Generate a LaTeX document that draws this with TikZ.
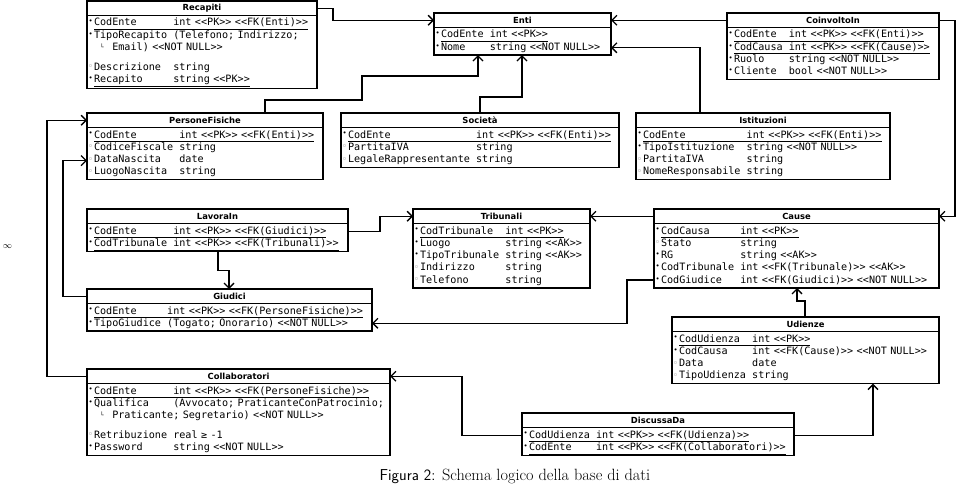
\documentclass[tikz,border=0pt]{standalone}
\usepackage{fontspec}
\setmonofont{DejaVu Sans Mono}
\newfontfamily\testa{DejaVu Sans}
\usepackage{tikz}
\usetikzlibrary{arrows.meta,calc}

\newlength\cw \setlength\cw{6.1pt}
\newlength\bw \setlength\bw{5.5pt}
\newcommand\corpofont{\ttfamily\fontsize{10.13}{12.3}\selectfont\frenchspacing
  \spaceskip=\cw\relax\xspaceskip=\cw\relax
  \lineskiplimit=-5pt\relax\lineskip=0pt\relax}
\newcommand\testafont{\testa\bfseries\fontsize{8.4}{10}\selectfont}
\newcommand\riga{\vrule width 0pt height 9pt depth 3.3pt\relax}
\newcommand\pieno{\riga\makebox[\bw][l]{\raisebox{2.2pt}{\testa\fontsize{7}{7}\selectfont •}}}
\newcommand\vuoto{\riga\makebox[\bw][l]{\raisebox{2.6pt}{\color{black!45}\fontsize{6}{6}\selectfont$\circ$}}}
\newcommand\attr[3]{\mbox{\makebox[#1\cw][l]{#2}#3}}
\newcommand\chiave[3]{\mbox{\underline{\vrule width 0pt depth 2pt\relax\makebox[#1\cw][l]{#2}#3}}}
\newcommand\segue[1]{\riga\hspace*{\bw}\mbox{\makebox[3\cw][l]{\hspace*{\cw}\raisebox{1pt}{\fontsize{6}{6}\selectfont └}}#1}}

\begin{document}
\begin{tikzpicture}[x=1pt, y=-1pt, line width=1.3pt,
    testata/.style={draw, anchor=north west, outer sep=0pt, inner sep=0pt, minimum height=14.5pt,
      font=\testafont},
    corpo/.style={draw, anchor=north west, outer sep=0pt, inner xsep=1.5pt, inner ysep=1.5pt, align=left,
      font=\corpofont},
    freccia/.style={-{Straight Barb[length=5pt,width=10pt]}}]
  \useasboundingbox (0,0) rectangle (959,487);

  % prima riga
  \node[testata, minimum width=230pt] (recapiti) at (87,1) {Recapiti};
  \node[corpo, text width=227pt] (recapiti-c) at (recapiti.south west) {%
    \pieno\chiave{13}{CodEnte}{int <<PK>> <<FK(Enti)>>}\\
    \pieno\attr{13}{TipoRecapito}{(Telefono; Indirizzo;}\\
    \segue{Email) <<NOT NULL>>}\\[7.5pt]
    \vuoto\attr{13}{Descrizione}{string}\\
    \pieno\chiave{13}{Recapito}{string <<PK>>}};

  \node[testata, minimum width=177pt] (enti) at (434,13) {Enti};
  \node[corpo, text width=174pt] (enti-c) at (enti.south west) {%
    \pieno\chiave{8}{CodEnte}{int <<PK>>}\\
    \pieno\attr{8}{Nome}{string <<NOT NULL>>}};

  \node[testata, minimum width=212pt] (coinvolto) at (727,13) {CoinvoltoIn};
  \node[corpo, text width=209pt] (coinvolto-c) at (coinvolto.south west) {%
    \pieno\chiave{9}{CodEnte}{int <<PK>> <<FK(Enti)>>}\\
    \pieno\chiave{9}{CodCausa}{int <<PK>> <<FK(Cause)>>}\\
    \pieno\attr{9}{Ruolo}{string <<NOT NULL>>}\\
    \pieno\attr{9}{Cliente}{bool <<NOT NULL>>}};

  % seconda riga
  \node[testata, minimum width=236pt] (persone) at (87,113) {PersoneFisiche};
  \node[corpo, text width=233pt] (persone-c) at (persone.south west) {%
    \pieno\chiave{14}{CodEnte}{int <<PK>> <<FK(Enti)>>}\\
    \vuoto\attr{14}{CodiceFiscale}{string}\\
    \vuoto\attr{14}{DataNascita}{date}\\
    \vuoto\attr{14}{LuogoNascita}{string}};

  \node[testata, minimum width=278pt] (societa) at (341,113) {Società};
  \node[corpo, text width=275pt] (societa-c) at (societa.south west) {%
    \pieno\chiave{21}{CodEnte}{int <<PK>> <<FK(Enti)>>}\\
    \vuoto\attr{21}{PartitaIVA}{string}\\
    \vuoto\attr{21}{LegaleRappresentante}{string}};

  \node[testata, minimum width=254pt] (istituzioni) at (636,113) {Istituzioni};
  \node[corpo, text width=251pt] (istituzioni-c) at (istituzioni.south west) {%
    \pieno\chiave{17}{CodEnte}{int <<PK>> <<FK(Enti)>>}\\
    \pieno\attr{17}{TipoIstituzione}{string <<NOT NULL>>}\\
    \vuoto\attr{17}{PartitaIVA}{string}\\
    \vuoto\attr{17}{NomeResponsabile}{string}};

  % terza riga
  \node[testata, minimum width=261pt] (lavora) at (87,209) {LavoraIn};
  \node[corpo, text width=258pt] (lavora-c) at (lavora.south west) {%
    \pieno\chiave{13}{CodEnte}{int <<PK>> <<FK(Giudici)>>}\\
    \pieno\chiave{13}{CodTribunale}{int <<PK>> <<FK(Tribunali)>>}};

  \node[testata, minimum width=177pt] (tribunali) at (413,209) {Tribunali};
  \node[corpo, text width=174pt] (tribunali-c) at (tribunali.south west) {%
    \pieno\chiave{14}{CodTribunale}{int <<PK>>}\\
    \pieno\attr{14}{Luogo}{string <<AK>>}\\
    \pieno\attr{14}{TipoTribunale}{string <<AK>>}\\
    \vuoto\attr{14}{Indirizzo}{string}\\
    \vuoto\attr{14}{Telefono}{string}};

  \node[testata, minimum width=285pt] (cause) at (654,209) {Cause};
  \node[corpo, text width=282pt] (cause-c) at (cause.south west) {%
    \pieno\chiave{13}{CodCausa}{int <<PK>>}\\
    \vuoto\attr{13}{Stato}{string}\\
    \pieno\attr{13}{RG}{string <<AK>>}\\
    \pieno\attr{13}{CodTribunale}{int <<FK(Tribunale)>> <<AK>>}\\
    \pieno\attr{13}{CodGiudice}{int <<FK(Giudici)>> <<NOT NULL>>}};

  % quarta riga
  \node[testata, minimum width=285pt] (giudici) at (87,289) {Giudici};
  \node[corpo, text width=282pt] (giudici-c) at (giudici.south west) {%
    \pieno\chiave{12}{CodEnte}{int <<PK>> <<FK(PersoneFisiche)>>}\\
    \pieno\attr{12}{TipoGiudice}{(Togato; Onorario) <<NOT NULL>>}};

  \node[testata, minimum width=267pt] (udienze) at (672,317) {Udienze};
  \node[corpo, text width=264pt] (udienze-c) at (udienze.south west) {%
    \pieno\chiave{12}{CodUdienza}{int <<PK>>}\\
    \pieno\attr{12}{CodCausa}{int <<FK(Cause)>> <<NOT NULL>>}\\
    \vuoto\attr{12}{Data}{date}\\
    \vuoto\attr{12}{TipoUdienza}{string}};

  \node[testata, minimum width=303pt] (collab) at (87,369) {Collaboratori};
  \node[corpo, text width=300pt] (collab-c) at (collab.south west) {%
    \pieno\chiave{13}{CodEnte}{int <<PK>> <<FK(PersoneFisiche)>>}\\
    \pieno\attr{13}{Qualifica}{(Avvocato; PraticanteConPatrocinio;}\\
    \segue{Praticante; Segretario) <<NOT NULL>>}\\[7.5pt]
    \vuoto\attr{13}{Retribuzione}{real ≥ -1}\\
    \pieno\attr{13}{Password}{string <<NOT NULL>>}};

  \node[testata, minimum width=272pt] (discussa) at (522,413) {DiscussaDa};
  \node[corpo, text width=269pt] (discussa-c) at (discussa.south west) {%
    \pieno\chiave{11}{CodUdienza}{int <<PK>> <<FK(Udienza)>>}\\
    \pieno\chiave{11}{CodEnte}{int <<PK>> <<FK(Collaboratori)>>}};

  \node[font=\fontsize{9}{9}\selectfont] (pagina) at (7.5,247) {$\infty$};
  \node[font=\fontsize{16.3}{18}\selectfont] (didascalia) at (515,476)
    {{\sffamily\fontsize{15.8}{18}\selectfont Figura 2:} Schema logico della base di dati};

  % chiavi esterne
  \draw[freccia] (recapiti.east) -- ++(16,0) |- (enti.west);
  \draw[freccia] (coinvolto.west) -- (enti.east);
  \draw[freccia] ($(istituzioni.north west)+(64,0)$) |- ($(enti-c.east)+(0,6.5)$);
  \draw[freccia] ($(persone.north west)+(178,0)$) -- ++(0,-13) -| ++(97,-24) -| ($(enti-c.south west)+(44,0)$);
  \draw[freccia] ($(societa.north west)+(139,0)$) -- ++(0,-16) -| ($(enti-c.south west)+(88,0)$);
  \draw[freccia] (coinvolto.east) -- ++(16,0) |- (cause.east);
  \draw[freccia] (cause.west) -- (tribunali.east);
  \draw[freccia] ($(lavora-c.north east)+(0,8)$) -- ++(32,0) |- (tribunali.west);
  \draw[freccia] ($(lavora-c.south west)+(131,0)$) -- ++(0,19) -| ($(giudici.north west)+(142,0)$);
  \draw[freccia] (giudici.west) -- ++(-24,0) |- ($(persone-c.west)+(0,7)$);
  \draw[freccia] (collab.west) -- ++(-40,0) |- (persone.west);
  \draw[freccia] ($(cause-c.south west)+(0,-8)$) -- ++(-27,0) |- ($(giudici-c.east)+(0,6)$);
  \draw[freccia] ($(udienze.north west)+(133,0)$) -- ++(0,-16) -| ($(cause-c.south west)+(143,0)$);
  \draw[freccia] ($(discussa-c.north east)+(0,8)$) -| ($(udienze-c.south west)+(201,0)$);
  \draw[freccia] ($(discussa-c.north west)+(0,8)$) -- ++(-60,0) |- (collab.east);
\end{tikzpicture}
\end{document}
